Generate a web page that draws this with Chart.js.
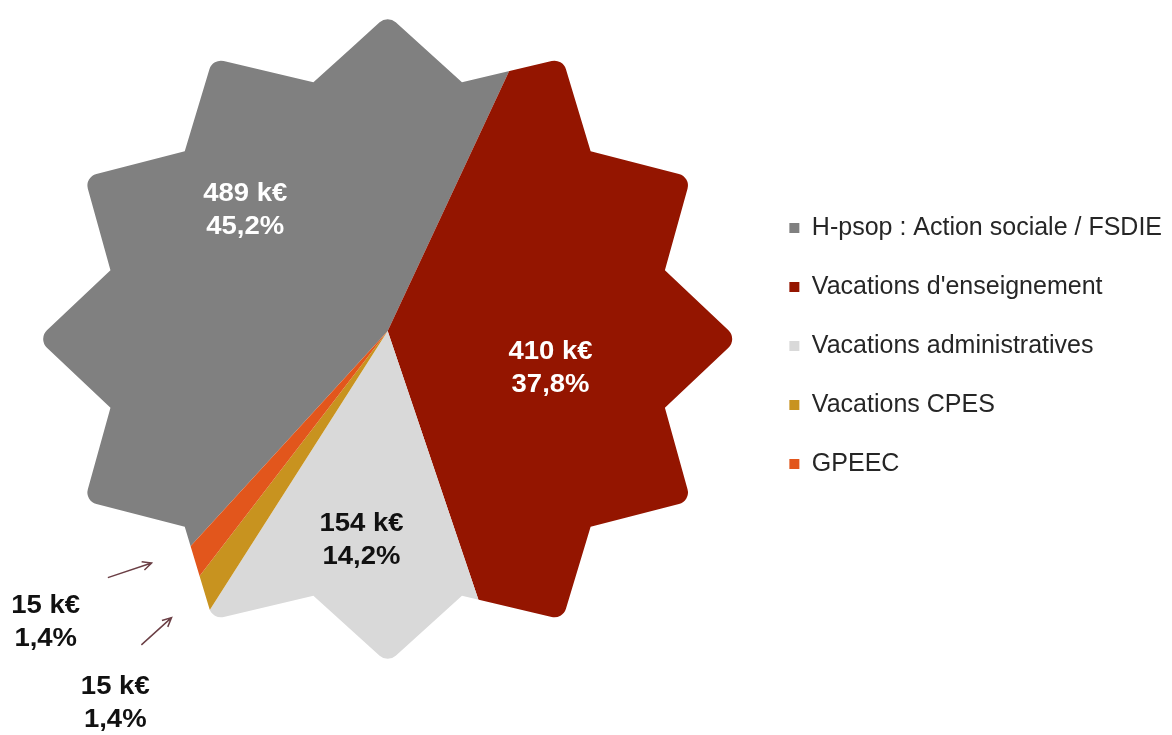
<!DOCTYPE html>
<html>
<head>
<meta charset="utf-8">
<script src="https://cdn.jsdelivr.net/npm/chart.js@4.4.1/dist/chart.umd.min.js"></script>
<style>
  html, body { margin: 0; padding: 0; background: #fff; }
  #chart { display: block; }
</style>
</head>
<body>
<canvas id="chart" width="1172" height="735"></canvas>
<script>
const categories = [
    'H-psop : Action sociale / FSDIE',
    "Vacations d'enseignement",
    'Vacations administratives',
    'Vacations CPES',
    'GPEEC'
];
const amountsKEur = [489, 410, 154, 15, 15];
const sharesPct = [45.2, 37.8, 14.2, 1.4, 1.4];
const sliceColors = ['#808080', '#941500', '#d9d9d9', '#c8931f', '#e2561c'];

// where each value label sits, relative to its slice (angle offset in degrees, distance in px)
const labelPlacement = [
    { dA: 6.6, r: 187, color: '#ffffff' },
    { dA: 9.6, r: 167, color: '#ffffff' },
    { dA: 0.2, r: 211, color: '#111111' },
    { dA: 1.2, r: 461, color: '#111111', arrow: [3.1, 399, 2.0, 359] },
    { dA: 9.6, r: 449, color: '#111111', arrow: [8.6, 373, 5.5, 331] }
];

const fmt = v => String(v).replace('.', ',');

// clips the pie into a 12 point star with rounded tips
const starClip = {
    id: 'starClip',
    beforeDatasetsDraw(chart, args, opts) {
        const arc = chart.getDatasetMeta(0).data[0];
        if (!arc) return;
        const ctx = chart.ctx;
        const cx = arc.x, cy = arc.y + opts.dy;
        const pts = [];
        for (let i = 0; i < opts.points * 2; i++) {
            const a = i * Math.PI / opts.points;
            const k = i % 2 === 0 ? 1 : opts.inner;
            pts.push({ x: cx + opts.rx * k * Math.sin(a), y: cy - opts.ry * k * Math.cos(a), tip: i % 2 === 0 });
        }
        const n = pts.length;
        const mid = (p, q) => ({ x: (p.x + q.x) / 2, y: (p.y + q.y) / 2 });
        ctx.save();
        ctx.beginPath();
        const start = mid(pts[n - 1], pts[0]);
        ctx.moveTo(start.x, start.y);
        for (let i = 0; i < n; i++) {
            const p = pts[i];
            const nxt = mid(p, pts[(i + 1) % n]);
            if (p.tip) ctx.arcTo(p.x, p.y, nxt.x, nxt.y, opts.tipRadius);
            else ctx.lineTo(p.x, p.y);
        }
        ctx.closePath();
        ctx.clip();
    },
    afterDatasetsDraw(chart) {
        chart.ctx.restore();
    }
};

// value labels (k€ + share) and the little arrows for the thin slices
const valueLabels = {
    id: 'valueLabels',
    afterDraw(chart) {
        const ctx = chart.ctx;
        const meta = chart.getDatasetMeta(0);
        const rad = d => d * Math.PI / 180;
        meta.data.forEach((arc, i) => {
            const pl = labelPlacement[i];
            const m = (arc.startAngle + arc.endAngle) / 2;
            const a = m + rad(pl.dA);
            const x = arc.x + pl.r * Math.cos(a);
            const y = arc.y + pl.r * Math.sin(a);

            ctx.save();
            ctx.translate(x, y);
            ctx.scale(1.1, 1);
            ctx.fillStyle = pl.color;
            ctx.font = 'bold 25px "Liberation Sans", Arial, sans-serif';
            ctx.textAlign = 'center';
            ctx.textBaseline = 'middle';
            ctx.fillText(amountsKEur[i] + ' k€', 0, -16);
            ctx.fillText(fmt(sharesPct[i]) + '%', 0, 17);
            ctx.restore();

            if (pl.arrow) {
                const [a1, r1, a2, r2] = pl.arrow;
                const x1 = arc.x + r1 * Math.cos(m + rad(a1)), y1 = arc.y + r1 * Math.sin(m + rad(a1));
                const x2 = arc.x + r2 * Math.cos(m + rad(a2)), y2 = arc.y + r2 * Math.sin(m + rad(a2));
                const ang = Math.atan2(y2 - y1, x2 - x1);
                ctx.save();
                ctx.strokeStyle = '#6b3f45';
                ctx.lineWidth = 1.5;
                ctx.beginPath();
                ctx.moveTo(x1, y1);
                ctx.lineTo(x2, y2);
                ctx.moveTo(x2 - 10 * Math.cos(ang - 0.45), y2 - 10 * Math.sin(ang - 0.45));
                ctx.lineTo(x2, y2);
                ctx.lineTo(x2 - 10 * Math.cos(ang + 0.45), y2 - 10 * Math.sin(ang + 0.45));
                ctx.stroke();
                ctx.restore();
            }
        });
    }
};

new Chart(document.getElementById('chart').getContext('2d'), {
    type: 'pie',
    data: {
        labels: categories,
        datasets: [{
            data: amountsKEur,
            backgroundColor: sliceColors,
            borderWidth: 0,
            radius: 420,
            rotation: 222.5,
            clip: false
        }]
    },
    options: {
        responsive: false,
        animation: false,
        layout: { padding: { left: 20, right: 0, top: 0, bottom: 73 } },
        plugins: {
            tooltip: { enabled: false },
            starClip: { points: 12, rx: 350, ry: 324, inner: 0.82, tipRadius: 12, dy: 8 },
            legend: {
                position: 'right',
                title: { display: true, text: ' ', padding: { top: 15.6, bottom: 0 } },
                labels: {
                    boxWidth: 10,
                    boxHeight: 10,
                    padding: 34,
                    color: '#262626',
                    font: { family: '"Liberation Sans", Arial, sans-serif', size: 25 }
                }
            }
        }
    },
    plugins: [starClip, valueLabels]
});
</script>
</body>
</html>
